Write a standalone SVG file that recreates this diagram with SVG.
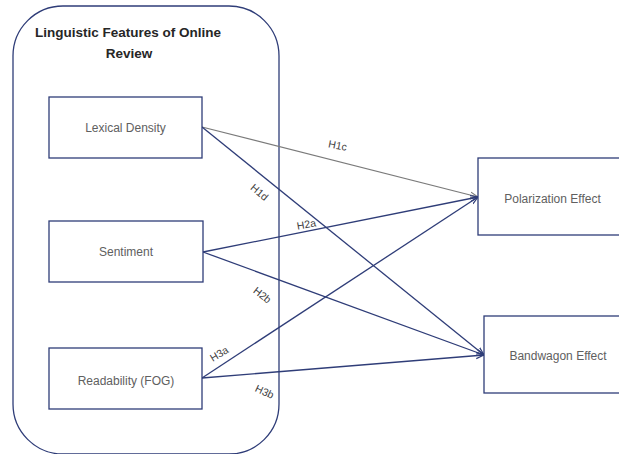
<svg xmlns="http://www.w3.org/2000/svg" width="619" height="454" viewBox="0 0 619 454">
<style>
.box{fill:#fff;stroke:#2f3d78;stroke-width:1.3}
.grp{fill:none;stroke:#2f3d78;stroke-width:1.3}
.nt{font-family:"Liberation Sans",Arial,sans-serif;font-size:12px;fill:#606060;text-anchor:middle}
.tt{font-family:"Liberation Sans",Arial,sans-serif;font-size:13.5px;font-weight:bold;fill:#262626;text-anchor:middle}
.lb{font-family:"Liberation Sans",Arial,sans-serif;font-size:10.5px;fill:#404040;text-anchor:middle}
.ln{fill:none;stroke:#2f3d78;stroke-width:1.3}
.lg{fill:none;stroke:#7a7a7a;stroke-width:1.2}
</style>
<defs>
<marker id="ah" markerUnits="userSpaceOnUse" markerWidth="10" markerHeight="8" refX="8" refY="4" orient="auto">
<path d="M0,1 L8,4 L0,7" fill="none" stroke="#2f3d78" stroke-width="1.2"/>
</marker>
<marker id="ahg" markerUnits="userSpaceOnUse" markerWidth="10" markerHeight="8" refX="8" refY="4" orient="auto">
<path d="M0,1 L8,4 L0,7" fill="none" stroke="#7a7a7a" stroke-width="1.2"/>
</marker>
</defs>
<g id="group-linguistic">
<rect class="grp" x="13" y="6" width="266" height="448" rx="50" ry="50"/>
<text class="tt" x="128" y="37">Linguistic Features of Online</text>
<text class="tt" x="129" y="58">Review</text>
</g>
<g id="connectors">
<line class="lg" x1="202" y1="127" x2="478" y2="197" marker-end="url(#ahg)"/>
<line class="ln" x1="202" y1="127" x2="484" y2="355" marker-end="url(#ah)"/>
<line class="ln" x1="203" y1="252" x2="478" y2="197" marker-end="url(#ah)"/>
<line class="ln" x1="203" y1="252" x2="484" y2="355" marker-end="url(#ah)"/>
<line class="ln" x1="202" y1="378" x2="478" y2="197" marker-end="url(#ah)"/>
<line class="ln" x1="202" y1="378" x2="484" y2="355" marker-end="url(#ah)"/>
<text class="lb" transform="translate(337,149) rotate(11)">H1c</text>
<text class="lb" transform="translate(257,195) rotate(40)">H1d</text>
<text class="lb" transform="translate(307,228) rotate(-10)">H2a</text>
<text class="lb" transform="translate(260,298) rotate(38)">H2b</text>
<text class="lb" transform="translate(221,357) rotate(-31)">H3a</text>
<text class="lb" transform="translate(263,395) rotate(25)">H3b</text>
</g>
<g id="node-lexical">
<rect class="box" x="49" y="97" width="153" height="61"/>
<text class="nt" x="125.5" y="132">Lexical Density</text>
</g>
<g id="node-sentiment">
<rect class="box" x="49" y="221" width="154" height="61"/>
<text class="nt" x="126" y="256">Sentiment</text>
</g>
<g id="node-readability">
<rect class="box" x="49" y="348" width="153" height="61"/>
<text class="nt" x="126" y="385">Readability (FOG)</text>
</g>
<g id="node-polarization">
<rect class="box" x="478" y="158" width="148" height="77"/>
<text class="nt" x="552.5" y="203">Polarization Effect</text>
</g>
<g id="node-bandwagon">
<rect class="box" x="484" y="316" width="148" height="77"/>
<text class="nt" x="558" y="360">Bandwagon Effect</text>
</g>
</svg>
